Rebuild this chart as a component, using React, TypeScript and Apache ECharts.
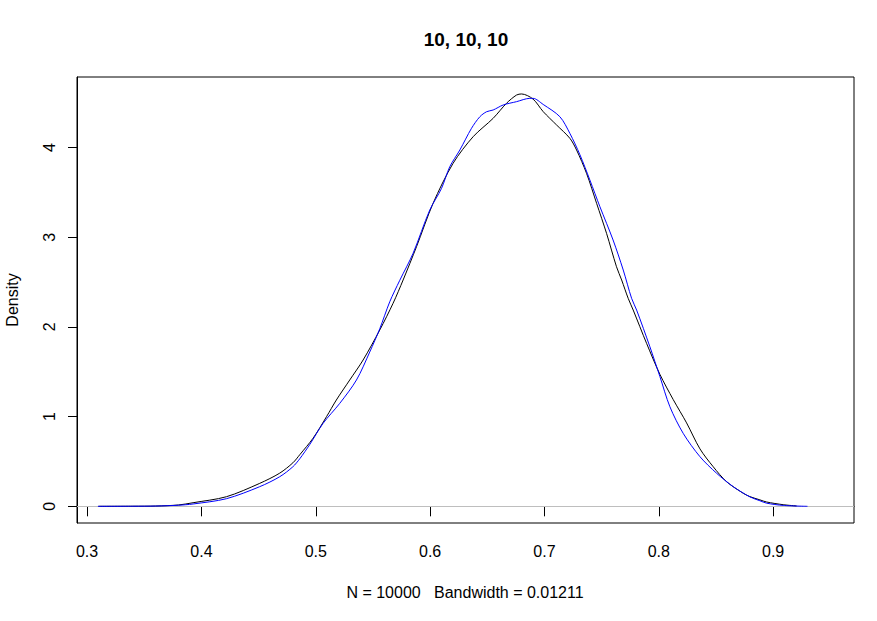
import React, { useEffect, useRef } from "react";
import * as echarts from "echarts";

const titleText = "10, 10, 10";
const subText = "N = 10000   Bandwidth = 0.01211";
const yName = "Density";

const xTicks = [0.3, 0.4, 0.5, 0.6, 0.7, 0.8, 0.9];
const yTicks = [0, 1, 2, 3, 4];

const blackX = [
  0.31, 0.34, 0.36, 0.38, 0.3927, 0.4219, 0.451, 0.4685, 0.48, 0.486, 0.4977, 0.5094, 0.518, 0.5297,
  0.5414, 0.556, 0.5676, 0.5764, 0.5881, 0.6026, 0.6201, 0.6376, 0.6551, 0.6668, 0.6756, 0.68, 0.69,
  0.6989, 0.7106, 0.7222, 0.7281, 0.7368, 0.7456, 0.7543, 0.763, 0.7675, 0.7732, 0.7776, 0.7893, 0.801,
  0.8126, 0.8243, 0.836, 0.8476, 0.8593, 0.8739, 0.8797, 0.8884, 0.8943, 0.9088, 0.9205,
];
const blackY = [
  0, 0.001, 0.003, 0.015, 0.04, 0.107, 0.256, 0.37, 0.485, 0.575, 0.76, 0.999, 1.185, 1.408,
  1.631, 1.966, 2.263, 2.523, 2.894, 3.378, 3.824, 4.12, 4.325, 4.493, 4.585, 4.597, 4.54,
  4.4, 4.251, 4.103, 3.972, 3.712, 3.378, 3.043, 2.671, 2.523, 2.319, 2.188, 1.817, 1.47,
  1.19, 0.93, 0.64, 0.441, 0.274, 0.145, 0.108, 0.072, 0.048, 0.018, 0.004,
];

const blueX = [
  0.3095, 0.34, 0.36, 0.38, 0.3927, 0.4219, 0.451, 0.4685, 0.48, 0.486, 0.4948, 0.5064, 0.521, 0.5356,
  0.5472, 0.556, 0.5647, 0.5735, 0.5851, 0.5997, 0.61, 0.6172, 0.626, 0.6362, 0.6435, 0.6494, 0.6551,
  0.6639, 0.6756, 0.6872, 0.69, 0.6989, 0.7135, 0.7222, 0.731, 0.7397, 0.7485, 0.76, 0.7689, 0.7762,
  0.7806, 0.7922, 0.801, 0.8097, 0.8213, 0.836, 0.8506, 0.8651, 0.8797, 0.8884, 0.8943, 0.9088, 0.93,
];
const blueY = [
  0, 0.001, 0.003, 0.012, 0.026, 0.085, 0.219, 0.33, 0.441, 0.53, 0.69, 0.925, 1.148, 1.408,
  1.72, 1.98, 2.28, 2.52, 2.82, 3.303, 3.545, 3.786, 3.972, 4.214, 4.343, 4.399, 4.418,
  4.474, 4.511, 4.548, 4.548, 4.48, 4.343, 4.158, 3.92, 3.638, 3.34, 2.969, 2.634, 2.319,
  2.188, 1.779, 1.445, 1.11, 0.814, 0.553, 0.368, 0.219, 0.105, 0.062, 0.035, 0.01, 0,
];

const FONT = "'Liberation Sans', Arial, sans-serif";

export default function App() {
  const ref = useRef<HTMLDivElement>(null);
  useEffect(() => {
    if (!ref.current) return;
    const chart = echarts.init(ref.current, null, { renderer: "svg" });
    const pairs = (xs: number[], ys: number[]) => xs.map((x, i) => [x, ys[i]]);
    chart.setOption({
      animation: false,
      backgroundColor: "#ffffff",
      textStyle: { fontFamily: FONT },
      grid: {
        left: 77,
        top: 77,
        right: 23,
        bottom: 98,
        show: true,
        borderColor: "#000000",
        borderWidth: 1,
        containLabel: false,
        outerBoundsMode: "none",
      },
      xAxis: {
        type: "value",
        min: 0.2912,
        max: 0.9707,
        splitLine: { show: false },
        axisLine: { show: true, lineStyle: { color: "#000000", width: 1 } },
        axisTick: {
          show: true,
          length: 10,
          customValues: xTicks,
          lineStyle: { color: "#000000", width: 1 },
        },
        axisLabel: {
          customValues: xTicks,
          color: "#000000",
          fontSize: 16,
          fontFamily: FONT,
          margin: 20,
          formatter: (v: number) => String(Math.round(v * 10) / 10),
        },
      },
      yAxis: {
        type: "value",
        min: -0.186,
        max: 4.786,
        name: yName,
        nameLocation: "middle",
        nameRotate: 90,
        nameGap: 57,
        nameTextStyle: { color: "#000000", fontSize: 16, fontFamily: FONT },
        splitLine: { show: false },
        axisLine: { show: true, lineStyle: { color: "#000000", width: 1 } },
        axisTick: {
          show: true,
          length: 9,
          customValues: yTicks,
          lineStyle: { color: "#000000", width: 1 },
        },
        axisLabel: {
          customValues: yTicks,
          rotate: 90,
          color: "#000000",
          fontSize: 16,
          fontFamily: FONT,
          margin: 20,
          formatter: (v: number) => String(Math.round(v)),
        },
      },
      graphic: [
        {
          type: "text",
          x: 466,
          y: 39,
          style: {
            text: titleText,
            fill: "#000000",
            font: `bold 19px ${FONT}`,
            textAlign: "center",
            textVerticalAlign: "middle",
          },
        },
        {
          type: "text",
          x: 465,
          y: 592,
          style: {
            text: subText,
            fill: "#000000",
            font: `16px ${FONT}`,
            textAlign: "center",
            textVerticalAlign: "middle",
          },
        },
      ],
      series: [
        {
          type: "line",
          data: pairs(blackX, blackY),
          showSymbol: false,
          smooth: 0.3,
          lineStyle: { color: "#000000", width: 1 },
          z: 3,
          markLine: {
            silent: true,
            symbol: ["none", "none"],
            label: { show: false },
            lineStyle: { color: "#BEBEBE", type: "solid", width: 1 },
            data: [{ yAxis: 0 }],
            z: 1,
          },
        },
        {
          type: "line",
          data: pairs(blueX, blueY),
          showSymbol: false,
          smooth: 0.3,
          lineStyle: { color: "#0000FF", width: 1 },
          z: 4,
        },
      ],
    });
    return () => chart.dispose();
  }, []);
  return (
    <div
      ref={ref}
      style={{ position: "fixed", left: 0, top: 0, width: 877, height: 621 }}
    />
  );
}
